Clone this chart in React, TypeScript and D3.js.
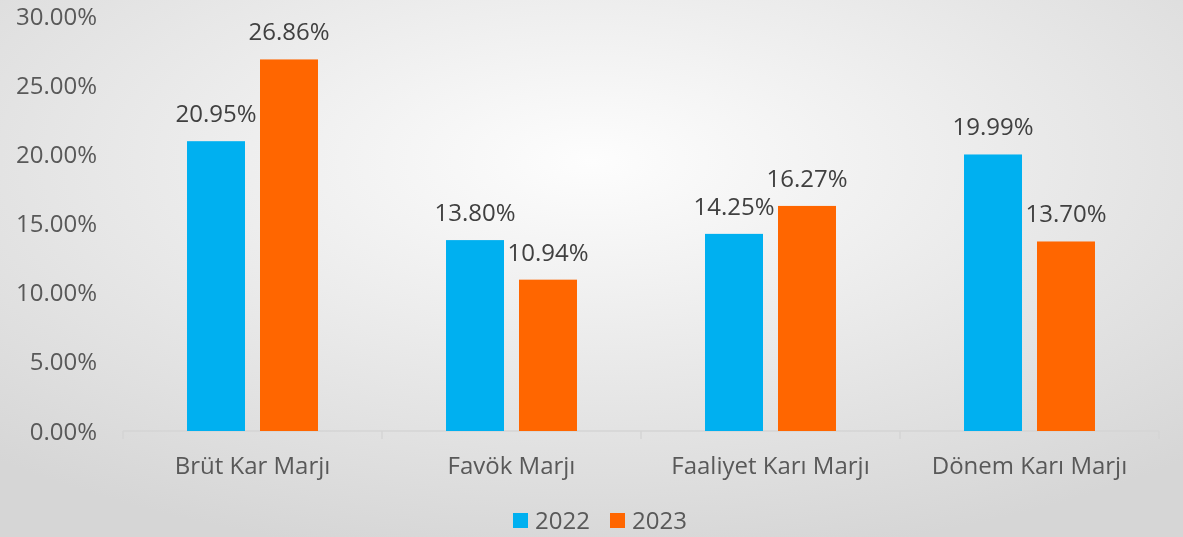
import React, { useEffect, useRef } from 'react';
import * as d3 from 'd3';

const categories = ['Brüt Kar Marjı', 'Favök Marjı', 'Faaliyet Karı Marjı', 'Dönem Karı Marjı'];
const seriesNames = ['2022', '2023'];
const values2022 = [20.95, 13.8, 14.25, 19.99];
const values2023 = [26.86, 10.94, 16.27, 13.7];
const yTicks = [0, 5, 10, 15, 20, 25, 30];
const colors = ['#00B0F0', '#FF6600'];

const W = 1183;
const H = 537;

const App = () => {
  const svgRef = useRef<SVGSVGElement>(null);

  useEffect(() => {
    const svg = d3.select(svgRef.current);
    svg.selectAll('*').remove();

    const marginLeft = 123;
    const marginRight = 24;
    const plotTop = 16;
    const plotBottom = 431;
    const font = "'Open Sans', sans-serif";

    // background
    const defs = svg.append('defs');
    const grad = defs.append('radialGradient')
      .attr('id', 'bg')
      .attr('cx', '50%').attr('cy', '30%').attr('r', '75%');
    grad.append('stop').attr('offset', '0%').attr('stop-color', '#fdfdfd');
    grad.append('stop').attr('offset', '100%').attr('stop-color', '#d6d6d6');
    svg.append('rect').attr('width', W).attr('height', H).attr('fill', 'url(#bg)');

    const x0 = d3.scaleBand<string>()
      .domain(categories)
      .range([marginLeft, W - marginRight])
      .padding(0);

    const x1 = d3.scaleBand<string>()
      .domain(seriesNames)
      .range([0, x0.bandwidth()])
      .paddingInner(0.2055)
      .paddingOuter(0.877);

    const y = d3.scaleLinear().domain([0, 30]).range([plotBottom, plotTop]);

    // y labels
    svg.append('g')
      .selectAll('text')
      .data(yTicks)
      .join('text')
      .attr('x', 97)
      .attr('y', d => y(d))
      .attr('dy', '0.36em')
      .attr('text-anchor', 'end')
      .attr('font-family', font)
      .attr('font-size', 24)
      .attr('fill', '#595959')
      .text(d => d.toFixed(2) + '%');

    // x axis
    const xAxis = svg.append('g')
      .attr('transform', `translate(0,${plotBottom})`);
    xAxis.append('line')
      .attr('x1', marginLeft).attr('x2', W - marginRight)
      .attr('stroke', '#d4d4d4').attr('stroke-width', 1.5);
    const bounds = [...categories.map(c => x0(c) as number), W - marginRight];
    xAxis.selectAll('line.tick')
      .data(bounds)
      .join('line')
      .attr('class', 'tick')
      .attr('x1', d => d).attr('x2', d => d)
      .attr('y1', 0).attr('y2', 8)
      .attr('stroke', '#d4d4d4').attr('stroke-width', 1.5);
    xAxis.selectAll('text')
      .data(categories)
      .join('text')
      .attr('x', d => (x0(d) as number) + x0.bandwidth() / 2)
      .attr('y', 43)
      .attr('text-anchor', 'middle')
      .attr('font-family', font)
      .attr('font-size', 24)
      .attr('fill', '#595959')
      .text(d => d);

    const rows = categories.map((c, i) => ({
      cat: c,
      vals: [values2022[i], values2023[i]]
    }));

    const groups = svg.append('g')
      .selectAll('g')
      .data(rows)
      .join('g')
      .attr('transform', d => `translate(${x0(d.cat)},0)`);

    groups.selectAll('rect')
      .data(d => d.vals.map((v, j) => ({ v, s: seriesNames[j], j })))
      .join('rect')
      .attr('x', d => x1(d.s) as number)
      .attr('width', x1.bandwidth())
      .attr('y', d => y(d.v))
      .attr('height', d => y(0) - y(d.v))
      .attr('fill', d => colors[d.j]);

    groups.selectAll('text')
      .data(d => d.vals.map((v, j) => ({ v, s: seriesNames[j], j })))
      .join('text')
      .attr('x', d => (x1(d.s) as number) + x1.bandwidth() / 2)
      .attr('y', d => y(d.v) - 19)
      .attr('text-anchor', 'middle')
      .attr('font-family', font)
      .attr('font-size', 24)
      .attr('fill', '#404040')
      .text(d => d.v.toFixed(2) + '%');

    // legend
    const legend = svg.append('g').attr('transform', 'translate(513,513)');
    const offsets = [0, 97];
    seriesNames.forEach((s, i) => {
      const g = legend.append('g').attr('transform', `translate(${offsets[i]},0)`);
      g.append('rect').attr('width', 15).attr('height', 15).attr('fill', colors[i]);
      g.append('text')
        .attr('x', 22).attr('y', 16)
        .attr('font-family', font)
        .attr('font-size', 24)
        .attr('fill', '#595959')
        .text(s);
    });
  }, []);

  return (
    <div style={{ position: 'fixed', left: 0, top: 0, width: W, height: H }}>
      <svg ref={svgRef} width={W} height={H} style={{ display: 'block' }} />
    </div>
  );
};

export default App;
